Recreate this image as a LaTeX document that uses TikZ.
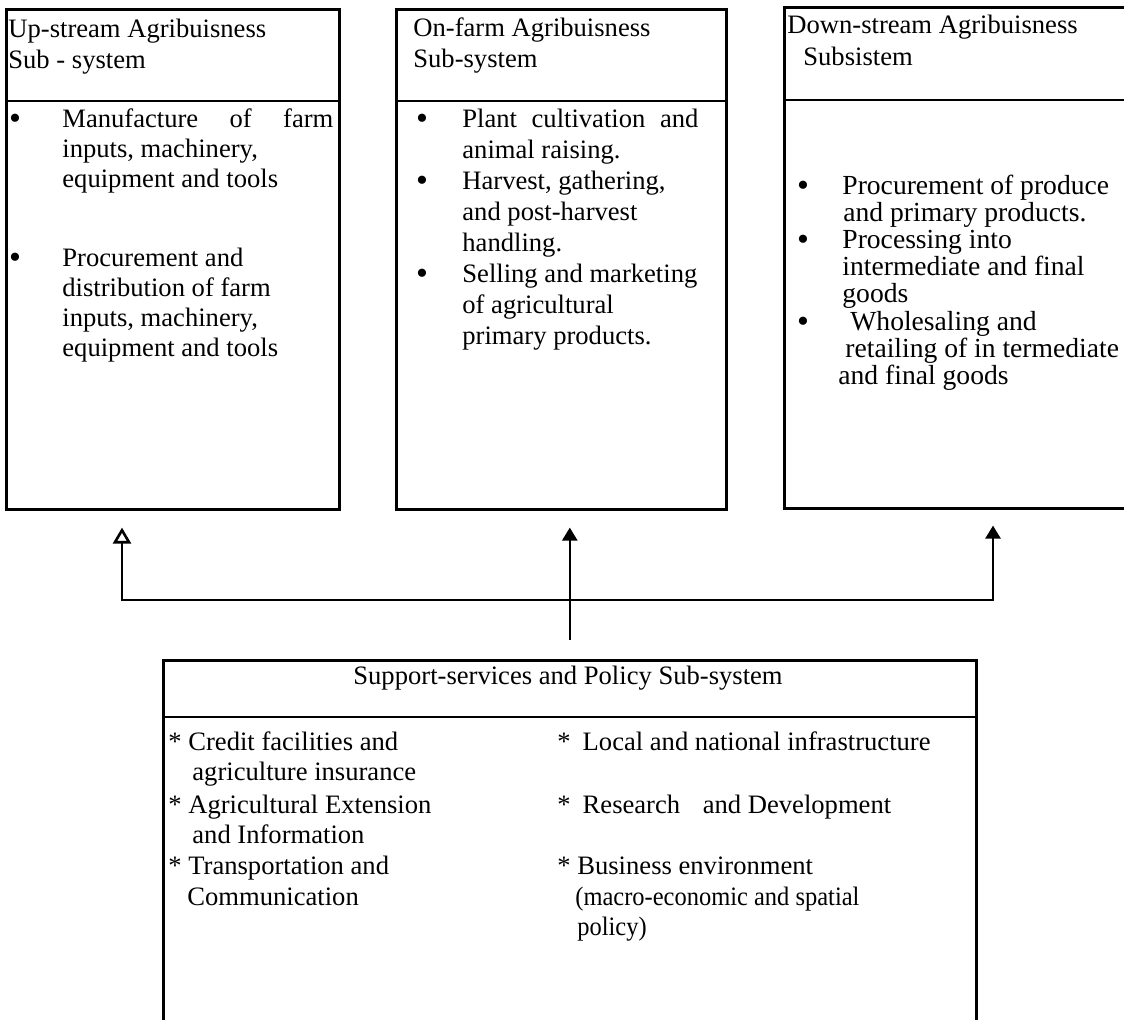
\documentclass[tikz,border=0pt]{standalone}
\usepackage{fontspec}
\setmainfont{Liberation Serif}
\usepackage{graphicx}
\usetikzlibrary{arrows.meta}
\newcommand\txtlines[5]{%
  \foreach \tln [count=\tlc] in {#5}{%
    \node[txt] (#1-\tlc) at (#2, {#3+(\tlc-1)*#4}) {\ignorespaces\tln};}}
\begin{document}
\begin{tikzpicture}[x=0.5pt,y=-0.5pt,
  frame/.style={draw, line width=1.3pt, rectangle, inner sep=0pt, anchor=north west},
  rule/.style={line width=1.3pt},
  txt/.style={anchor=base west, inner sep=0pt, font=\fontsize{13.3}{15}\selectfont},
  bigtxt/.style={txt, font=\fontsize{13.8}{15}\selectfont},
  bul/.style={anchor=base, inner sep=0pt, font=\fontsize{17}{17}\selectfont},
  conn/.style={line width=1.3pt}
]
\useasboundingbox (0,0) rectangle (1124,1020);
\clip (0,0) rectangle (1124,1020);

% boxes
\node[frame, minimum width=166.5pt, minimum height=250pt] (up) at (5,8) {};
\node[frame, minimum width=165pt, minimum height=250pt] (on) at (395,8) {};
\node[frame, minimum width=178.5pt, minimum height=250.5pt] (down) at (783,6) {};
\node[frame, minimum width=406.5pt, minimum height=190.5pt] (sup) at (162,659) {};
\coordinate (d1) at (0,101);
\coordinate (d3) at (0,100);
\coordinate (ds) at (0,717);
\draw[rule] (up.west |- d1) -- (up.east |- d1);
\draw[rule] (on.west |- d1) -- (on.east |- d1);
\draw[rule] (down.west |- d3) -- (down.east |- d3);
\draw[rule] (sup.west |- ds) -- (sup.east |- ds);

% connectors
\coordinate (jl) at (122,600);
\coordinate (jr) at (993,600);
\draw[conn, {Triangle[open, length=8pt, width=9pt, line width=1.3pt]}-{Triangle[length=6.5pt, width=7.5pt]},
      shorten <=8.5pt, shorten >=8pt]
  (jl |- up.south) -- (jl) -- (jr) -- (jr |- down.south);
\draw[conn, -{Triangle[length=6.5pt, width=7.5pt]}, shorten <=9.5pt, shorten >=8.5pt]
  (sup.north) -- (sup.north |- on.south);

% up-stream box
\node[txt] (uh1) at (8,38) {Up-stream Agribuisness};
\node[txt] (uh2) at (8,69) {Sub - system};
\node[bul] (ub1) at (15,130) {•};
\txtlines{ua}{62}{128}{30}{{\hbox to 135.5pt{Manufacture\hfill of\hfill farm}},{inputs, machinery,},equipment and tools}
\node[bul] (ub2) at (15,269) {•};
\txtlines{ub}{62}{267}{30}{Procurement and,distribution of farm,{inputs, machinery,},equipment and tools}

% on-farm box
\node[txt] (oh1) at (413,37) {On-farm Agribuisness};
\node[txt] (oh2) at (413,68) {Sub-system};
\node[bul] (ob1) at (422,130) {•};
\node[bul] (ob2) at (422,192) {•};
\node[bul] (ob3) at (422,285) {•};
\txtlines{oa}{462}{128}{31}{{\hbox to 118pt{Plant\hfill cultivation\hfill and}},animal raising.,{Harvest, gathering,},and post-harvest,handling.,Selling and marketing,of agricultural,primary products.}

% down-stream box
\node[txt] (dh1) at (787,34) {Down-stream Agribuisness};
\node[txt] (dh2) at (803,66) {Subsistem};
\node[bul] (db1) at (803,197) {•};
\node[bul] (db2) at (803,251) {•};
\node[bul] (db3) at (803,333) {•};
\node[bigtxt] (da1) at (842,195) {Procurement of produce};
\node[bigtxt] (da2) at (843,222) {and primary products.};
\node[bigtxt] (da3) at (842,249) {Processing into};
\node[bigtxt] (da4) at (842,276) {intermediate and final};
\node[bigtxt] (da5) at (842,303) {goods};
\node[bigtxt] (dw1) at (850,331) {Wholesaling and};
\node[bigtxt] (dw2) at (845,358) {retailing of in termediate};
\node[bigtxt] (dw3) at (838,385) {and final goods};

% support box
\node[txt] (sh) at (353,685) {Support-services and Policy Sub-system};
\node[txt] (s1) at (168,750) {* Credit facilities and};
\node[txt] (s2) at (192,780) {agriculture insurance};
\node[txt] (s3) at (168,813) {* Agricultural Extension};
\node[txt] (s4) at (192,843) {and Information};
\node[txt] (s5) at (168,874) {* Transportation and};
\node[txt] (s6) at (187,905) {Communication};
\node[txt] (r1) at (557,750) {*\hspace{6pt}Local and national infrastructure};
\node[txt] (r2) at (557,813) {*\hspace{6pt}Research\hspace{8pt} and Development};
\node[txt] (r3) at (557,874) {* Business environment};
\node[txt] (r4) at (575,905) {\scalebox{0.92}[1]{(macro-economic and spatial}};
\node[txt] (r5) at (577,935) {\scalebox{0.92}[1]{policy)}};
\end{tikzpicture}
\end{document}
